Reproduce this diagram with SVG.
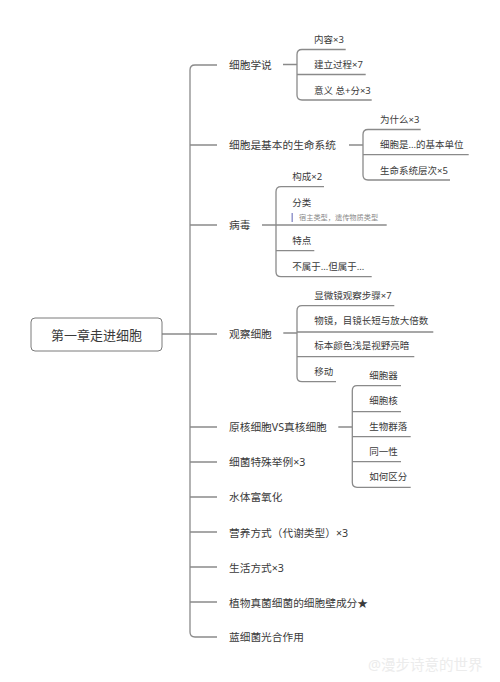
<svg xmlns="http://www.w3.org/2000/svg" width="500" height="682" viewBox="0 0 500 682">
<style>
.ln{fill:none;stroke:#8a8a8a;stroke-width:1.3}
text{font-family:"Noto Sans","Noto Sans CJK SC",sans-serif;fill:#3a3a3a;dominant-baseline:central}
.l1{font-size:10.7px}
.l2{font-size:9.5px}
.root{font-size:13px;text-anchor:middle}
.note{font-size:7.2px;fill:#8a8a8a}
.wm{font-size:14.5px;fill:#ececec}
</style>
<rect width="500" height="682" fill="#ffffff"/>
<g id="connectors">
<path class="ln" d="M162,334 H217"/>
<path class="ln" d="M217,65 H195 Q190,65 190,70 V632 Q190,637 195,637 H217"/>
<path class="ln" d="M190,145 H217 M190,225 H217 M190,427 H217 M190,462 H217 M190,497 H217 M190,532 H217 M190,567 H217 M190,602 H217"/>
<path class="ln" d="M283,64.5 H297 M345.7,49.5 H302 Q297,49.5 297,54.5 V95 Q297,100 302,100 H371.7 M297,74.5 H365.7"/>
<path class="ln" d="M349,145 H363 M420.7,129.5 H368 Q363,129.5 363,134.5 V175 Q363,180 368,180 H450 M363,154.7 H468.7"/>
<path class="ln" d="M262,225 H276 M324,186.7 H281 Q276,186.7 276,191.7 V271.7 Q276,276.7 281,276.7 H371.7 M276,225 H386.7 M276,250.7 H314.3"/>
<path class="ln" d="M283.3,333 H297 M394.3,305.7 H302 Q297,305.7 297,310.7 V376.7 Q297,381.7 302,381.7 H336 M297,332 H433.3 M297,356.7 H414.3"/>
<path class="ln" d="M338.3,427 H352.3 M401,385.7 H357 Q352.3,385.7 352.3,390.7 V482.3 Q352.3,487.3 357,487.3 H410.7 M352.3,411.7 H401 M352.3,436.7 H410.7 M352.3,461.7 H401"/>
</g>
<g id="root">
<rect x="31" y="318" width="131" height="33" rx="4" fill="#ffffff" stroke="#7a7a7a" stroke-width="1"/>
<text class="root" x="96.5" y="334.5">第一章走进细胞</text>
</g>
<g id="n1"><text class="l1" x="229" y="64.5">细胞学说</text></g>
<g id="n1a"><text class="l2" x="314" y="39">内容×3</text></g>
<g id="n1b"><text class="l2" x="314" y="64">建立过程×7</text></g>
<g id="n1c"><text class="l2" x="314" y="90">意义 总+分×3</text></g>
<g id="n2"><text class="l1" x="229" y="145">细胞是基本的生命系统</text></g>
<g id="n2a"><text class="l2" x="380" y="119">为什么×3</text></g>
<g id="n2b"><text class="l2" x="380" y="144.3">细胞是…的基本单位</text></g>
<g id="n2c"><text class="l2" x="380" y="170">生命系统层次×5</text></g>
<g id="n3"><text class="l1" x="229" y="225">病毒</text></g>
<g id="n3a"><text class="l2" x="292.3" y="176.7">构成×2</text></g>
<g id="n3b"><text class="l2" x="292.3" y="202.3">分类</text>
<rect x="291.5" y="213" width="1.4" height="9" fill="#8c8fc9"/>
<text class="note" x="299" y="217.3">宿主类型，遗传物质类型</text></g>
<g id="n3c"><text class="l2" x="292.3" y="240">特点</text></g>
<g id="n3d"><text class="l2" x="292.3" y="266.7">不属于…但属于…</text></g>
<g id="n4"><text class="l1" x="229" y="334">观察细胞</text></g>
<g id="n4a"><text class="l2" x="314.3" y="295">显微镜观察步骤×7</text></g>
<g id="n4b"><text class="l2" x="314.3" y="320.7">物镜，目镜长短与放大倍数</text></g>
<g id="n4c"><text class="l2" x="314.3" y="345.7">标本颜色浅是视野亮暗</text></g>
<g id="n4d"><text class="l2" x="314.3" y="371">移动</text></g>
<g id="n5"><text class="l1" x="229" y="426.7">原核细胞VS真核细胞</text></g>
<g id="n5a"><text class="l2" x="369.3" y="375">细胞器</text></g>
<g id="n5b"><text class="l2" x="369.3" y="400.7">细胞核</text></g>
<g id="n5c"><text class="l2" x="369.3" y="426">生物群落</text></g>
<g id="n5d"><text class="l2" x="369.3" y="451">同一性</text></g>
<g id="n5e"><text class="l2" x="369.3" y="476.7">如何区分</text></g>
<g id="n6"><text class="l1" x="229" y="461.7">细菌特殊举例×3</text></g>
<g id="n7"><text class="l1" x="229" y="496.7">水体富氧化</text></g>
<g id="n8"><text class="l1" x="229" y="532.5">营养方式（代谢类型）×3</text></g>
<g id="n9"><text class="l1" x="229" y="567.5">生活方式×3</text></g>
<g id="n10"><text class="l1" x="229" y="602.7">植物真菌细菌的细胞壁成分★</text></g>
<g id="n11"><text class="l1" x="229" y="637.3">蓝细菌光合作用</text></g>
<text class="wm" x="368" y="664">@漫步诗意的世界</text>
</svg>
